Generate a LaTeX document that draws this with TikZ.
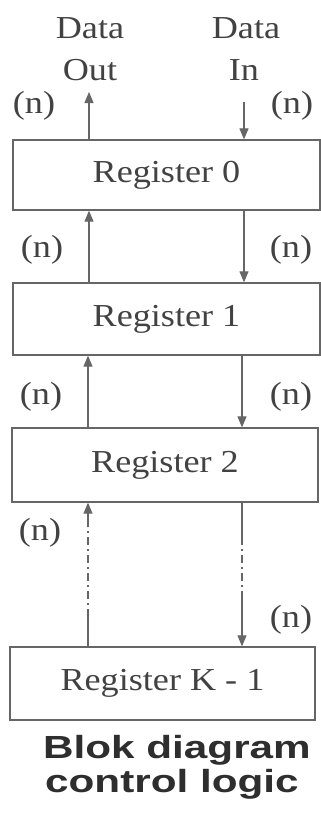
\documentclass[tikz,border=0pt]{standalone}
\usepackage{fontspec}
\setmainfont{Liberation Serif}[FakeStretch=1.13]
\newfontfamily\titlefont{Liberation Sans}[FakeStretch=1.32]
\usetikzlibrary{arrows.meta}
\definecolor{inkline}{HTML}{666666}
\definecolor{inktext}{HTML}{424242}
\definecolor{inktitle}{HTML}{2E2E2E}
\begin{document}
\begin{tikzpicture}[x=1pt,y=-1pt,
  reg/.style={draw=inkline,line width=1.3pt,minimum width=307pt,inner sep=0pt,
    font=\fontsize{32}{38}\selectfont,text=inktext},
  lbl/.style={font=\fontsize{32}{38}\selectfont,text=inktext,inner sep=0pt},
  heading/.style={font=\titlefont\bfseries\fontsize{32}{38}\selectfont,text=inktitle,inner sep=0pt},
  wire/.style={draw=inkline,line width=1.1pt},
  bus/.style={wire,-{Triangle[length=11pt,width=9pt]}},
  dashdot/.style={dash pattern=on 8pt off 4pt on 2pt off 4pt}]
\useasboundingbox (0,0) rectangle (321,815);
\fill[white] (0,0) rectangle (321,815);

% register stack
\node[reg,minimum height=70pt] (b0) at (166.5,175) {Register 0};
\node[reg,minimum height=72pt] (b1) at (166.5,319) {Register 1};
\node[reg,minimum height=74pt,minimum width=306pt] (b2) at (165,465) {Register 2};
\node[reg,minimum height=73pt,minimum width=305pt] (bK) at (162.5,683.5) {Register K - 1};

% external data lines
\node[lbl,anchor=base] (dout1) at (90,38) {Data};
\node[lbl,anchor=base] (dout2) at (90,80) {Out};
\node[lbl,anchor=base] (din1) at (246,38) {Data};
\node[lbl,anchor=base] (din2) at (244,80) {In};
\coordinate (outTip) at (89,92);
\coordinate (inStart) at (244,102);
\draw[bus] (b0.north -| outTip) -- (outTip);
\draw[bus] (inStart) -- (b0.north -| inStart);
\node[lbl] (n0l) at (34,106) {(n)};
\node[lbl] (n0r) at (292,106) {(n)};

% register 0 <-> register 1
\coordinate (xL1) at (89,0);
\coordinate (xR1) at (244,0);
\draw[bus] (b1.north -| xL1) -- (b0.south -| xL1);
\draw[bus] (b0.south -| xR1) -- (b1.north -| xR1);
\node[lbl] (n1l) at (42,250) {(n)};
\node[lbl] (n1r) at (291,250) {(n)};

% register 1 <-> register 2
\coordinate (xL2) at (88,0);
\coordinate (xR2) at (242,0);
\draw[bus] (b2.north -| xL2) -- (b1.south -| xL2);
\draw[bus] (b1.south -| xR2) -- (b2.north -| xR2);
\node[lbl] (n2l) at (41,397) {(n)};
\node[lbl] (n2r) at (291,397) {(n)};

% register 2 <-> register K-1 (elided registers)
\coordinate (l4a) at (88,617);
\coordinate (l4b) at (88,527);
\draw[wire] (bK.north -| l4a) -- (l4a);
\draw[wire,dashdot] (l4a) -- (l4b);
\draw[bus] (l4b) -- (b2.south -| l4b);
\coordinate (r4a) at (242,537);
\coordinate (r4b) at (242,597);
\draw[wire] (b2.south -| r4a) -- (r4a);
\draw[wire,dashdot] (r4a) -- (r4b);
\draw[bus] (r4b) -- (bK.north -| r4b);
\node[lbl] (n3l) at (40,533) {(n)};
\node[lbl] (n3r) at (291,620) {(n)};

% caption
\node[heading,anchor=base west] (cap1) at (43,758) {Blok diagram};
\node[heading,anchor=base west] (cap2) at (45,792) {control logic};
\end{tikzpicture}
\end{document}
